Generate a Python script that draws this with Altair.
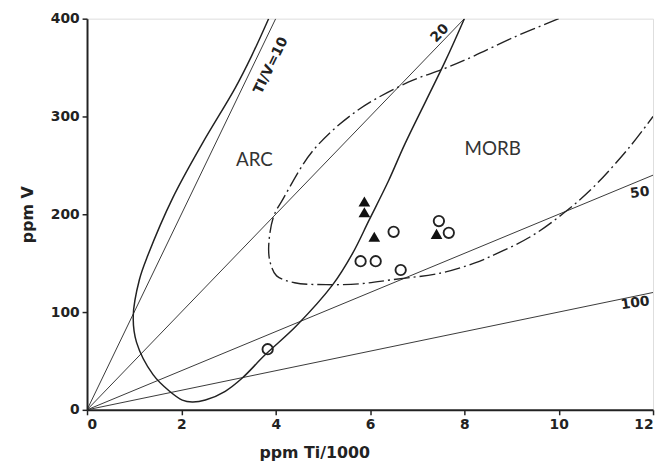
import altair as alt
import pandas as pd

# Ti/V reference lines (Ti/V ratio)
ratios = [10, 20, 50, 100]

# Solid field boundary (ordered along the curve)
solid_x = [3.85, 3.49, 3.14, 2.44, 1.82, 1.29, 1.11, 0.98, 1.05, 1.40, 1.75, 2.02, 2.23, 2.51, 2.93, 3.28, 3.77, 4.44, 5.21, 5.63, 5.98, 6.39, 6.74, 7.58, 8.00]
solid_v = [400, 362, 329, 272, 217, 158, 133, 96, 69, 36, 19, 10, 8, 10, 19, 32, 56, 86, 128, 160, 194, 234, 272, 355, 400]

# Dash-dot MORB field boundary
morb_x = [10.0, 9.05, 8.21, 7.58, 6.81, 5.70, 4.79, 4.16, 3.95, 3.85, 3.90, 4.02, 4.40, 5.07, 5.80, 6.46, 7.51, 8.21, 8.56, 9.40, 10.1, 10.72, 11.49, 12.0]
morb_v = [400, 381, 362, 349, 335, 305, 265, 216, 197, 164, 148, 137, 130, 128, 129, 133, 140, 150, 157, 177, 201, 227, 268, 300]

# Samples
circle_x = [3.83, 6.50, 7.46, 7.67, 5.80, 6.12, 6.65]
circle_v = [62, 182, 193, 181, 152, 152, 143]
tri_x = [5.88, 5.88, 6.09, 7.41]
tri_v = [213, 202, 177, 180]

# Labels
field_labels = ["ARC", "MORB"]
field_x = [3.55, 8.6]
field_v = [255, 267]

ratio_labels = ["TI/V=10", "20", "50", "100"]
ratio_lab_x = [3.90, 7.48, 11.72, 11.62]
ratio_lab_v = [352, 385, 222, 109]
ratio_lab_angle = [296, 314, 352, 352]

xmax, vmax = 12, 400
rows = []
for r in ratios:
    xe = min(xmax, vmax * r / 1000)
    rows.append({"r": r, "x": 0, "v": 0})
    rows.append({"r": r, "x": xe, "v": 1000 * xe / r})
lines_df = pd.DataFrame(rows)

solid_df = pd.DataFrame({"x": solid_x, "v": solid_v, "o": range(len(solid_x))})
morb_df = pd.DataFrame({"x": morb_x, "v": morb_v, "o": range(len(morb_x))})
circ_df = pd.DataFrame({"x": circle_x, "v": circle_v})
tri_df = pd.DataFrame({"x": tri_x, "v": tri_v})
field_df = pd.DataFrame({"t": field_labels, "x": field_x, "v": field_v})
rlab_df = pd.DataFrame({"t": ratio_labels, "x": ratio_lab_x, "v": ratio_lab_v, "a": ratio_lab_angle})

xs = alt.Scale(domain=[0, 12], nice=False, zero=False)
ys = alt.Scale(domain=[0, 400], nice=False, zero=False)

FONT = "DejaVu Sans"

xax = alt.Axis(values=[0, 2, 4, 6, 8, 10, 12], title="ppm Ti/1000", grid=False,
               labelFont=FONT, labelFontWeight="bold", labelFontSize=14,
               labelColor="#222", tickColor="#222", tickSize=5, tickWidth=1.5,
               domainColor="#222", domainWidth=2, labelPadding=3,
               titleFont=FONT, titleFontWeight="bold", titleFontSize=16,
               titleColor="#222", titleX=230, titleY=51, titleAlign="center",
               titleBaseline="bottom")
yax = alt.Axis(values=[0, 100, 200, 300, 400], title="ppm V", grid=False,
               labelFont=FONT, labelFontWeight="bold", labelFontSize=14,
               labelColor="#222", tickColor="#222", tickSize=5, tickWidth=1.5,
               domainColor="#222", domainWidth=2, labelPadding=3,
               titleFont=FONT, titleFontWeight="bold", titleFontSize=16,
               titleColor="#222", titleX=-60, titleY=198, titleAlign="center",
               titleBaseline="middle")

X = alt.X("x:Q", scale=xs, axis=xax)
Y = alt.Y("v:Q", scale=ys, axis=yax)

ratio_lines = alt.Chart(lines_df).mark_line(color="#222", strokeWidth=0.9, clip=True).encode(
    x=X, y=Y, detail="r:N")

solid = alt.Chart(solid_df).mark_line(color="#222", strokeWidth=1.5, interpolate="catmull-rom", clip=True).encode(
    x=alt.X("x:Q", scale=xs), y=alt.Y("v:Q", scale=ys), order="o:Q")

morb = alt.Chart(morb_df).mark_line(color="#222", strokeWidth=1.4, strokeDash=[16, 4, 2, 4],
                                     interpolate="catmull-rom", clip=True).encode(
    x=alt.X("x:Q", scale=xs), y=alt.Y("v:Q", scale=ys), order="o:Q")

circles = alt.Chart(circ_df).mark_point(shape="circle", filled=False, color="#222", size=110, strokeWidth=1.9, opacity=1).encode(
    x=alt.X("x:Q", scale=xs), y=alt.Y("v:Q", scale=ys))

tris = alt.Chart(tri_df).mark_point(shape="triangle-up", filled=True, color="#111", size=140, opacity=1).encode(
    x=alt.X("x:Q", scale=xs), y=alt.Y("v:Q", scale=ys))

fields = alt.Chart(field_df).mark_text(font="Lato", fontSize=19, color="#333").encode(
    x=alt.X("x:Q", scale=xs), y=alt.Y("v:Q", scale=ys), text="t:N")

rlabs = alt.Chart(rlab_df).mark_text(font=FONT, fontWeight="bold", fontSize=14,
                                      baseline="middle", color="#222").encode(
    x=alt.X("x:Q", scale=xs), y=alt.Y("v:Q", scale=ys), text="t:N", angle=alt.Angle("a:Q", scale=None))

chart = alt.layer(ratio_lines, solid, morb, circles, tris, fields, rlabs).properties(
    width=573, height=396,
    autosize=alt.AutoSizeParams(type="none"),
    padding={"left": 80, "top": 8, "right": 3, "bottom": 51},
).configure_view(stroke="#222", strokeWidth=1.6).configure(background="white")

chart.save("out.html", embed_options={"renderer": "svg", "actions": False})
